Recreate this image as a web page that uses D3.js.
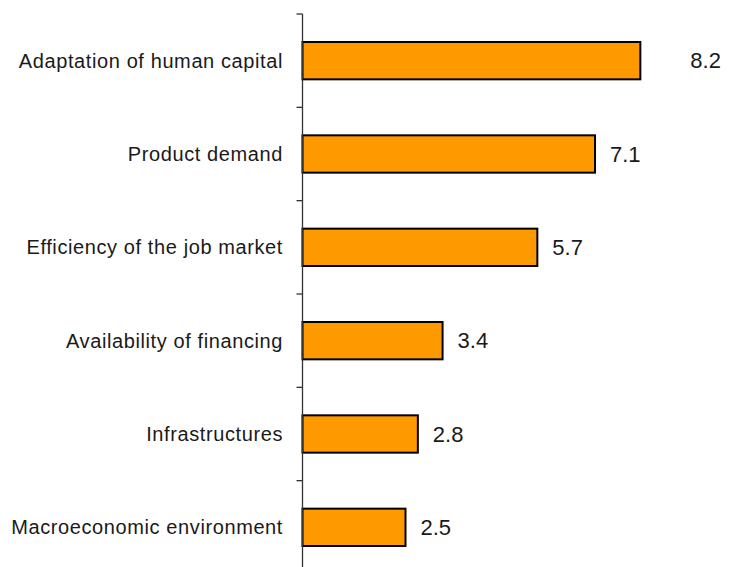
<!DOCTYPE html>
<html>
<head>
<meta charset="utf-8">
<script src="https://cdn.jsdelivr.net/npm/d3@7"></script>
<style>
  html, body { margin: 0; padding: 0; background: #fff; }
  svg { display: block; }
  text { font-family: Arial, "Liberation Sans", sans-serif; fill: #1a1a1a; }
</style>
</head>
<body>
<svg id="chart" width="730" height="567"></svg>
<script>
// Drivers and their scores
const categories = [
  "Adaptation of human capital",
  "Product demand",
  "Efficiency of the job market",
  "Availability of financing",
  "Infrastructures",
  "Macroeconomic environment"
];
const values = [8.2, 7.1, 5.7, 3.4, 2.8, 2.5];
const valueLabels = ["8.2", "7.1", "5.7", "3.4", "2.8", "2.5"];

const svg = d3.select("#chart");
const axisX = 302.5;

const y = d3.scaleBand()
  .domain(categories)
  .range([14, 574])
  .paddingInner(0.6)
  .paddingOuter(0.3);

const x = d3.scaleLinear()
  .domain([0, 9])
  .range([axisX, axisX + 9 * 41.2]);

// bars
svg.append("g").selectAll("rect")
  .data(values)
  .join("rect")
  .attr("x", x(0))
  .attr("y", (d, i) => y(categories[i]))
  .attr("width", d => x(d) - x(0))
  .attr("height", y.bandwidth())
  .attr("fill", "#FF9900")
  .attr("stroke", "#000")
  .attr("stroke-width", 2);

// vertical axis with tick marks at band boundaries
const step = y.step();
const boundaries = d3.range(categories.length + 1).map(i => y.range()[0] + i * step);
const axis = svg.append("g");
axis.append("line")
  .attr("x1", axisX).attr("x2", axisX)
  .attr("y1", boundaries[0]).attr("y2", boundaries[boundaries.length - 1])
  .attr("stroke", "#333").attr("stroke-width", 1.3);
axis.selectAll("line.tick")
  .data(boundaries)
  .join("line")
  .attr("class", "tick")
  .attr("x1", axisX - 6).attr("x2", axisX)
  .attr("y1", d => d).attr("y2", d => d)
  .attr("stroke", "#333").attr("stroke-width", 1.3);

// category labels
svg.append("g").selectAll("text")
  .data(categories)
  .join("text")
  .attr("x", 283)
  .attr("y", d => y(d) + y.bandwidth() / 2)
  .attr("dy", "0.35em")
  .attr("text-anchor", "end")
  .style("font-size", "20px")
  .style("letter-spacing", "0.6px")
  .text(d => d);

// value labels
svg.append("g").selectAll("text")
  .data(values)
  .join("text")
  .attr("x", (d, i) => x(d) + (i === 0 ? 50 : 15))
  .attr("y", (d, i) => y(categories[i]) + y.bandwidth() / 2)
  .attr("dy", "0.35em")
  .style("font-size", "22px")
  .text((d, i) => valueLabels[i]);
</script>
</body>
</html>
